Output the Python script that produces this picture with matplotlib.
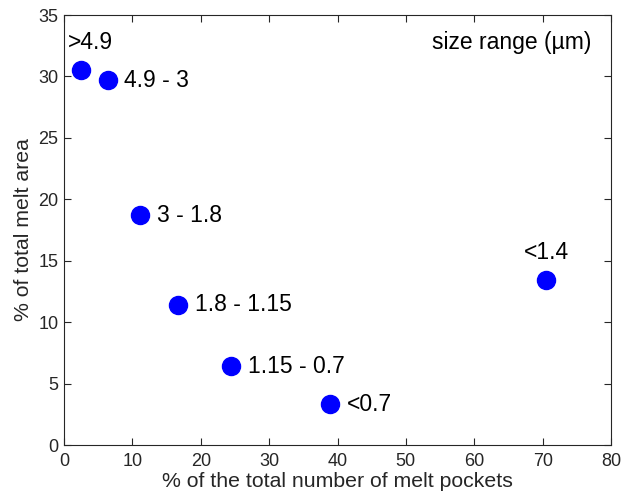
import matplotlib.pyplot as plt

plt.rcParams['font.family'] = ['Liberation Sans', 'DejaVu Sans']

# % of total number of melt pockets vs % of total melt area
number_pct = [2.5, 6.4, 11.1, 16.7, 24.4, 38.9, 70.5]
area_pct = [30.5, 29.7, 18.7, 11.4, 6.4, 3.3, 13.4]
size_labels = ['>4.9', '4.9 - 3', '3 - 1.8', '1.8 - 1.15', '1.15 - 0.7', '<0.7', '<1.4']
# label placement: 'right' of point or 'above' it
placement = ['above', 'right', 'right', 'right', 'right', 'right', 'above']

fig = plt.figure(figsize=(6.22, 4.97), dpi=100)
ax = fig.add_axes([64 / 622, 1 - 445 / 497, 547 / 622, 430 / 497])

ax.plot(number_pct, area_pct, 'o', color='#0000ff', markersize=13, linestyle='none')

for x, y, lab, where in zip(number_pct, area_pct, size_labels, placement):
    if where == 'right':
        ax.annotate(lab, (x, y), xytext=(12, 0), textcoords='offset points',
                    ha='left', va='center', fontsize=16.5)
    else:
        ax.annotate(lab, (x, y), xytext=(7 if lab == '>4.9' else 0, 20),
                    textcoords='offset points', ha='center', va='center', fontsize=16.5)

ax.text(0.965, 0.935, 'size range (\u00b5m)', transform=ax.transAxes,
        ha='right', va='center', fontsize=16.5)

ax.set_xlim(0, 80)
ax.set_ylim(0, 35)
ax.set_xticks(range(0, 81, 10))
ax.set_yticks(range(0, 36, 5))
ax.tick_params(direction='in', top=True, right=True, length=5, width=0.8,
               labelsize=13, colors='#262626')
ax.tick_params(axis='x', pad=6)
ax.tick_params(axis='y', pad=4)
for s in ax.spines.values():
    s.set_color('#262626')
    s.set_linewidth(0.8)

ax.set_xlabel('% of the total number of melt pockets', fontsize=15.3, color='#262626', labelpad=1)
ax.set_ylabel('% of total melt area', fontsize=15.3, color='#262626', labelpad=4)

fig.savefig('out.png', dpi=100)
